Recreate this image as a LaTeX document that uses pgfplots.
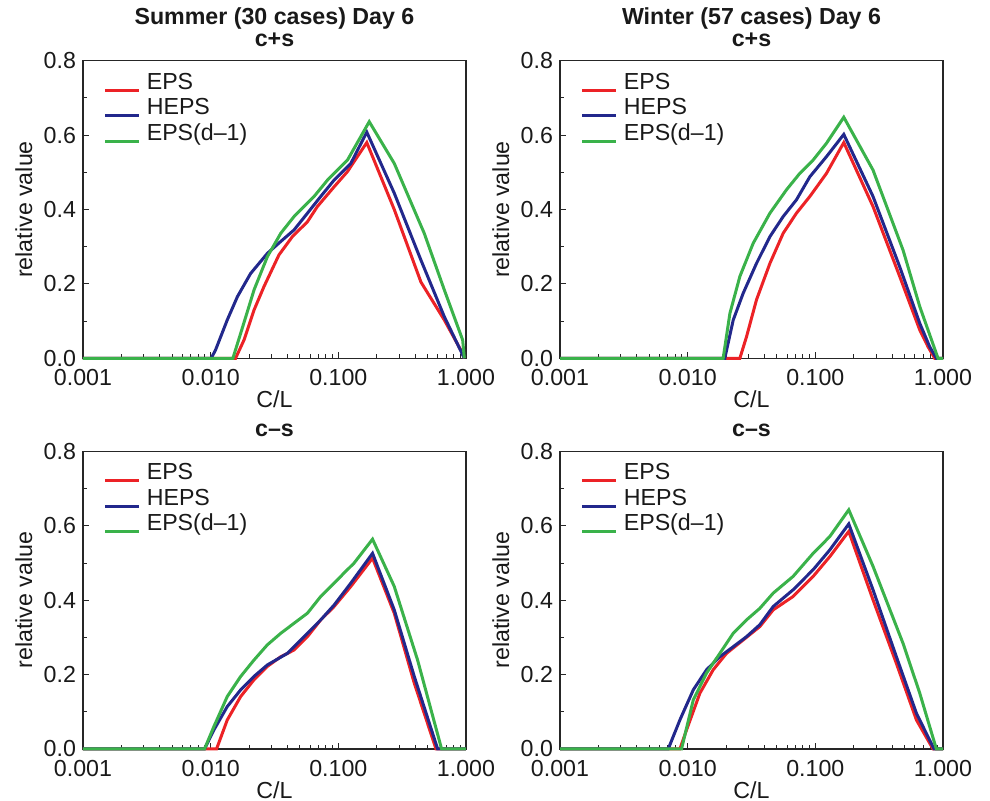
\documentclass[border=0pt]{standalone}
\usepackage{fontspec}
\setmainfont{Liberation Sans}
\usepackage{pgfplots}
\usepackage{pgfplotstable}
\pgfplotsset{compat=1.18}
\definecolor{cred}{RGB}{236,34,38}
\definecolor{cblue}{RGB}{34,40,140}
\definecolor{cgreen}{RGB}{58,178,74}
\newcommand{\ff}{\fontsize{11.6}{13.9}\selectfont}

% ---------- data ----------
\pgfplotstableread{
x y
0.001 0
0.01567 0
0.01824 0.049
0.02188 0.13
0.02618 0.193
0.03428 0.278
0.04365 0.327
0.05728 0.367
0.06855 0.408
0.09268 0.461
0.1180 0.502
0.1671 0.580
0.2742 0.400
0.4436 0.205
0.6761 0.103
0.9419 0.013
0.9705 0
}\tlA
\pgfplotstableread{
x y
0.001 0
0.01009 0
0.01091 0.022
0.01349 0.103
0.01622 0.166
0.02056 0.228
0.0278 0.282
0.0354 0.314
0.04498 0.345
0.05728 0.39
0.07278 0.435
0.09268 0.479
0.1253 0.524
0.1671 0.608
0.2742 0.444
0.4436 0.264
0.6761 0.112
0.9705 0
}\tlB
\pgfplotstableread{
x y
0.001 0
0.01493 0
0.01718 0.067
0.02188 0.184
0.0278 0.273
0.0354 0.336
0.04498 0.381
0.06457 0.435
0.08222 0.479
0.1180 0.533
0.1746 0.636
0.2742 0.524
0.471 0.336
0.6761 0.184
0.9419 0.049
0.9705 0
}\tlC
\pgfplotstableread{
x y
0.001 0
0.02564 0
0.02891 0.058
0.03459 0.157
0.04406 0.255
0.05598 0.336
0.07112 0.39
0.09057 0.435
0.1222 0.497
0.1671 0.58
0.2831 0.408
0.4581 0.22
0.6577 0.076
0.7638 0.031
0.861 0
1 0
}\trA
\pgfplotstableread{
x y
0.001 0
0.01954 0
0.02275 0.103
0.02723 0.175
0.03459 0.255
0.04406 0.327
0.05598 0.381
0.07112 0.426
0.09057 0.488
0.1222 0.542
0.1671 0.602
0.2831 0.435
0.4581 0.246
0.6577 0.094
0.787 0.031
0.8872 0
1 0
}\trB
\pgfplotstableread{
x y
0.001 0
0.01897 0
0.02143 0.121
0.02564 0.22
0.03258 0.309
0.04406 0.39
0.05943 0.453
0.07551 0.497
0.09616 0.533
0.1222 0.578
0.1671 0.648
0.2831 0.506
0.4864 0.291
0.6577 0.139
0.9141 0
1 0
}\trC
\pgfplotstableread{
x y
0.001 0
0.01112 0
0.01349 0.078
0.01718 0.141
0.02183 0.186
0.0278 0.222
0.0354 0.248
0.04498 0.266
0.05728 0.302
0.07278 0.347
0.09268 0.383
0.1253 0.437
0.1854 0.513
0.2742 0.365
0.3936 0.177
0.5821 0
1 0
}\blA
\pgfplotstableread{
x y
0.001 0
0.008954 0
0.01059 0.051
0.01349 0.114
0.01718 0.159
0.02183 0.195
0.0278 0.226
0.0399 0.257
0.0507 0.293
0.07278 0.347
0.09268 0.387
0.1253 0.446
0.1854 0.526
0.2742 0.374
0.3936 0.195
0.5998 0
1 0
}\blB
\pgfplotstableread{
x y
0.001 0
0.008954 0
0.01059 0.06
0.01349 0.141
0.01718 0.195
0.02183 0.239
0.0278 0.28
0.0354 0.311
0.04498 0.338
0.05728 0.365
0.07278 0.41
0.09268 0.446
0.1109 0.473
0.133 0.5
0.1854 0.564
0.2742 0.437
0.4178 0.239
0.6442 0
1 0
}\blC
\pgfplotstableread{
x y
0.001 0
0.00869 0
0.009795 0.051
0.01247 0.15
0.01585 0.213
0.02014 0.257
0.02723 0.293
0.03673 0.329
0.04677 0.374
0.06699 0.41
0.09616 0.464
0.1297 0.517
0.1828 0.585
0.2831 0.401
0.4315 0.23
0.6194 0.078
0.8356 0
1 0
}\brA
\pgfplotstableread{
x y
0.001 0
0.007047 0
0.00869 0.078
0.01107 0.159
0.01406 0.213
0.01786 0.248
0.02275 0.275
0.02891 0.302
0.03673 0.334
0.04677 0.383
0.06699 0.428
0.09616 0.482
0.1297 0.535
0.1828 0.605
0.2831 0.428
0.4315 0.248
0.6194 0.096
0.8511 0
1 0
}\brB
\pgfplotstableread{
x y
0.001 0
0.008954 0
0.01107 0.132
0.01406 0.204
0.01786 0.257
0.02275 0.311
0.02891 0.347
0.03673 0.378
0.04677 0.419
0.06699 0.464
0.09616 0.526
0.1297 0.571
0.1828 0.643
0.2831 0.491
0.4864 0.284
0.6577 0.15
0.8872 0
1 0
}\brC

\pgfplotsset{
  legend image code/.code={\draw[#1] (0pt,-2.6pt) -- (17pt,-2.6pt);},
  every axis plot/.append style={line width=1.5pt},
}
\pgfplotsset{
  myax/.style={
    scale only axis, width=191.5pt, height=148.8pt,
    xmin=0.001, xmax=1, ymin=0, ymax=0.8,
    clip=false,
    xtick={0.001,0.01,0.1,1}, xticklabels={0.001,0.010,0.100,1.000},
    minor xtick={0.002,0.003,0.004,0.005,0.006,0.007,0.008,0.009,0.02,0.03,0.04,0.05,0.06,0.07,0.08,0.09,0.2,0.3,0.4,0.5,0.6,0.7,0.8,0.9},
    ytick={0,0.2,0.4,0.6,0.8}, yticklabels={0.0,0.2,0.4,0.6,0.8},
    minor ytick={0.1,0.3,0.5,0.7},
    tick align=inside, xtick pos=left, ytick pos=left,
    major tick length=3pt, minor tick length=2pt,
    axis line style={black!85, line width=0.6pt},
    every tick/.style={black!85, line width=0.5pt},
    tick label style={font=\ff, text=black!90},
    xticklabel style={yshift=-2pt},
    xlabel={C/L}, ylabel={relative value},
    xlabel style={at={(axis description cs:0.5,-0.1647)}, anchor=base, inner sep=0pt, font=\ff, text=black!90},
    ylabel style={at={(axis description cs:-0.1309,0.5)}, anchor=south, inner sep=0pt, font=\ff, text=black!90},
    title style={at={(axis description cs:0.5,1)}, anchor=south, yshift=1pt, inner sep=0pt, align=center, font=\fontsize{11.6}{10.8}\selectfont\bfseries, text=black!90},
    legend style={at={(axis description cs:0,1)}, anchor=north west, xshift=10.2pt, yshift=-5.5pt,
      draw=none, fill=none, inner sep=0pt, row sep=0pt, column sep=3pt, font=\ff, text=black!90,
      nodes={inner sep=0pt, text height=8.5pt, text depth=4.25pt}},
    legend cell align=left,
  }
}

\begin{document}
\begin{tikzpicture}
\path[use as bounding box] (0,0) rectangle (495pt,400.5pt);

\begin{axis}[xmode=log, myax, at={(41.5pt,221.35pt)}, anchor=south west,
  title={Summer (30 cases) Day 6\\c+s}]
\addplot[cred] table {\tlA};
\addplot[cblue] table {\tlB};
\addplot[cgreen] table {\tlC};
\legend{EPS,HEPS,EPS(d–1)}
\end{axis}

\begin{axis}[xmode=log, myax, at={(280pt,221.35pt)}, anchor=south west,
  title={Winter (57 cases) Day 6\\c+s}]
\addplot[cred] table {\trA};
\addplot[cblue] table {\trB};
\addplot[cgreen] table {\trC};
\legend{EPS,HEPS,EPS(d–1)}
\end{axis}

\begin{axis}[xmode=log, myax, at={(41.5pt,26pt)}, anchor=south west,
  title={c–s}]
\addplot[cred] table {\blA};
\addplot[cblue] table {\blB};
\addplot[cgreen] table {\blC};
\legend{EPS,HEPS,EPS(d–1)}
\end{axis}

\begin{axis}[xmode=log, myax, at={(280pt,26pt)}, anchor=south west,
  title={c–s}]
\addplot[cred] table {\brA};
\addplot[cblue] table {\brB};
\addplot[cgreen] table {\brC};
\legend{EPS,HEPS,EPS(d–1)}
\end{axis}
\end{tikzpicture}
\end{document}
